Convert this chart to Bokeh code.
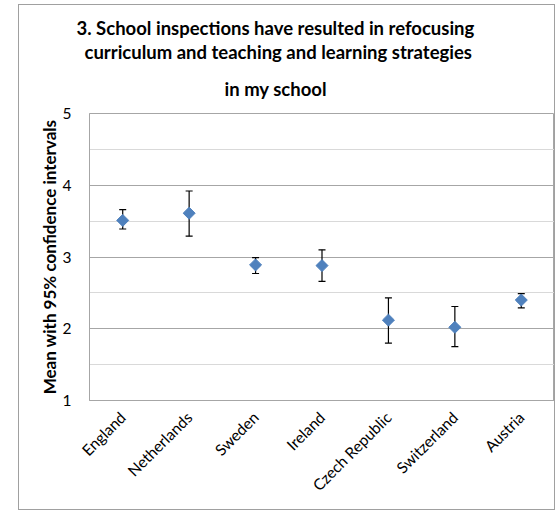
import numpy as np
from bokeh.plotting import figure
from bokeh.models import (ColumnDataSource, FactorRange, Range1d, Whisker, TeeHead,
                          SingleIntervalTicker, Title)
from bokeh.layouts import column
from bokeh.embed import file_html
from bokeh.resources import INLINE

# ---- data ----
countries = ["England", "Netherlands", "Sweden", "Ireland",
             "Czech Republic", "Switzerland", "Austria"]
means = [3.51, 3.61, 2.89, 2.88, 2.12, 2.02, 2.40]
lower = [3.39, 3.29, 2.77, 2.66, 1.80, 1.75, 2.29]
upper = [3.66, 3.92, 2.99, 3.10, 2.43, 2.31, 2.49]
title_lines = ["3. School inspections have resulted in refocusing",
               "curriculum and teaching and learning strategies",
               "in my school"]
y_label = "Mean with 95% confidence intervals"

FONT = "Lato"

src = ColumnDataSource(dict(country=countries, mean=means, lower=lower, upper=upper))

p = figure(width=535, height=504, output_backend="svg", toolbar_location=None,
           x_range=FactorRange(*countries, range_padding=0),
           y_range=Range1d(1, 5),
           min_border_left=70, min_border_right=0,
           min_border_top=108, min_border_bottom=109)

p.background_fill_color = "white"
p.border_fill_color = "white"
p.outline_line_color = "#a6a6a6"

# grid
p.xgrid.grid_line_color = None
p.yaxis.ticker = SingleIntervalTicker(interval=1, num_minor_ticks=2)
p.ygrid.grid_line_color = "#a6a6a6"
p.ygrid.minor_grid_line_color = "#d9d9d9"

# axes
for ax in (p.xaxis, p.yaxis):
    ax.axis_line_color = "#a6a6a6"
    ax.major_tick_line_color = None
    ax.minor_tick_line_color = None
    ax.major_label_text_font = FONT
    ax.major_label_text_font_size = "15.5px"
    ax.major_label_text_color = "black"

p.yaxis.major_label_standoff = 12
p.yaxis.axis_label = y_label
p.yaxis.axis_label_text_font = FONT
p.yaxis.axis_label_text_font_style = "bold"
p.yaxis.axis_label_text_font_size = "17px"
p.yaxis.axis_label_text_color = "black"
p.yaxis.axis_label_standoff = 0

p.xaxis.major_label_orientation = np.pi / 4
p.xaxis.major_label_standoff = 8

# error bars
w = Whisker(source=src, base="country", lower="lower", upper="upper",
            line_color="black", line_width=1.2,
            upper_head=TeeHead(size=7, line_color="black", line_width=1.2),
            lower_head=TeeHead(size=7, line_color="black", line_width=1.2))
p.add_layout(w)

# markers (diamonds)
p.scatter(x="country", y="mean", source=src, marker="square", angle=np.pi / 4,
          size=8.5, fill_color="#4f81bd", line_color="#4f81bd")

# title lines: added innermost first (last line gets extra standoff for spacing)
offsets = [-13, -5, 135]
standoffs = [0, 0, 27]
for t, off, so in reversed(list(zip(title_lines, offsets, standoffs))):
    p.add_layout(Title(text=t, align="left", offset=off, standoff=so,
                       text_font=FONT, text_font_style="bold",
                       text_font_size="18.5px", text_color="black"), "above")

layout = column(p, margin=(4, 0, 0, 18),
                styles={"border": "1px solid #a0a0a0"})

open("out.html", "w").write(file_html(layout, INLINE))
